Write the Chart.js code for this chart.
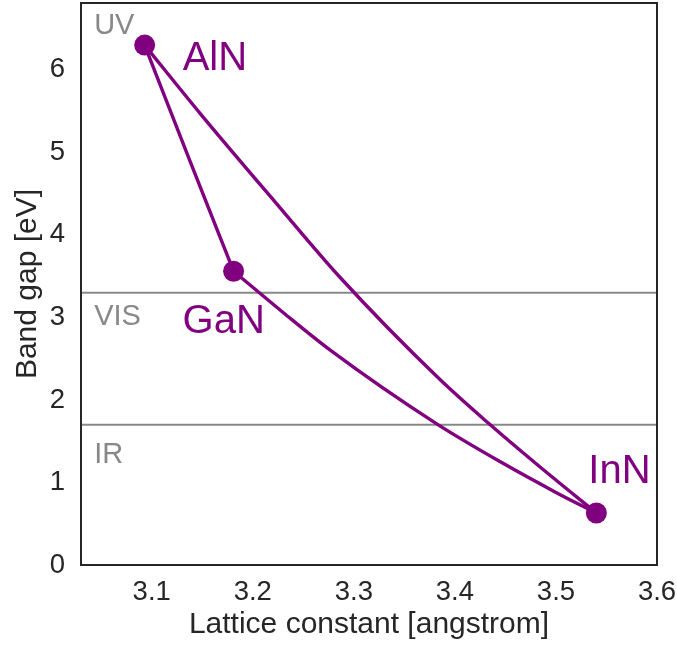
<!DOCTYPE html>
<html>
<head>
<meta charset="utf-8">
<script src="https://cdn.jsdelivr.net/npm/chart.js@4.4.1/dist/chart.umd.min.js"></script>
<style>
  html, body { margin: 0; padding: 0; background: #fff; }
  #wrap { width: 677px; height: 645px; }
</style>
</head>
<body>
<div id="wrap"><canvas id="myChart" width="677" height="645"></canvas></div>
<script>
// binary end points
const compoundNames = ['AlN', 'GaN', 'InN'];
const latticeConst = [3.093, 3.181, 3.540];
const bandGap = [6.30, 3.56, 0.63];

// ternary alloy curves
const alnInnX = [3.093, 3.148, 3.222, 3.286, 3.385, 3.433, 3.484, 3.540];
const alnInnY = [6.30, 5.47, 4.40, 3.49, 2.25, 1.72, 1.19, 0.63];
const alnGanX = [3.093, 3.137, 3.181];
const alnGanY = [6.30, 4.92, 3.56];
const ganInnX = [3.181, 3.230, 3.277, 3.382, 3.445, 3.500, 3.540];
const ganInnY = [3.56, 3.06, 2.60, 1.71, 1.25, 0.88, 0.63];

// spectral regions
const regionNames = ['UV', 'VIS', 'IR'];
const regionBorders = [3.3, 1.7];

const xTicks = [3.1, 3.2, 3.3, 3.4, 3.5, 3.6];
const yTicks = [0, 1, 2, 3, 4, 5, 6];
const xMin = 3.03, xMax = 3.6, yMin = 0, yMax = 6.81;

const purple = '#800080';
const grey = '#888888';
const ink = '#262626';

Chart.defaults.font.family = "'Liberation Sans', Arial, sans-serif";

function toPts(xs, ys) {
  return xs.map((x, i) => ({ x: x, y: ys[i] }));
}

const curveStyle = {
  showLine: true,
  borderColor: purple,
  borderWidth: 3.4,
  pointRadius: 0,
  cubicInterpolationMode: 'monotone',
  order: 2
};

const datasets = [
  { label: 'compounds', data: toPts(latticeConst, bandGap), pointRadius: 10.5, pointBorderWidth: 0,
    backgroundColor: purple, borderColor: purple, showLine: false, order: 0 },
  Object.assign({ label: 'AlInN', data: toPts(alnInnX, alnInnY) }, curveStyle),
  Object.assign({ label: 'AlGaN', data: toPts(alnGanX, alnGanY) }, curveStyle),
  Object.assign({ label: 'InGaN', data: toPts(ganInnX, ganInnY) }, curveStyle)
];
regionBorders.forEach(function (v) {
  datasets.push({ label: 'border ' + v, data: [{ x: xMin, y: v }, { x: xMax, y: v }],
    showLine: true, borderColor: grey, borderWidth: 2, pointRadius: 0, order: 5 });
});

// labels: offsets in px from the dot, region labels in data units
const frameAndLabels = {
  id: 'frameAndLabels',
  afterDatasetsDraw(chart, args, opts) {
    const ctx = chart.ctx;
    const a = chart.chartArea;
    const xs = chart.scales.x, ys = chart.scales.y;
    ctx.save();
    ctx.strokeStyle = ink;
    ctx.lineWidth = 2;
    ctx.strokeRect(a.left, a.top, a.right - a.left, a.bottom - a.top);

    ctx.textAlign = 'left';
    ctx.textBaseline = 'alphabetic';
    ctx.fillStyle = purple;
    ctx.font = "40px 'Liberation Sans', Arial, sans-serif";
    compoundNames.forEach(function (name, i) {
      const off = opts.labelOffsets[i];
      ctx.fillText(name, xs.getPixelForValue(latticeConst[i]) + off[0],
                         ys.getPixelForValue(bandGap[i]) + off[1]);
    });

    ctx.fillStyle = grey;
    ctx.font = "29px 'Liberation Sans', Arial, sans-serif";
    regionNames.forEach(function (name, i) {
      ctx.fillText(name, xs.getPixelForValue(opts.regionX), ys.getPixelForValue(opts.regionY[i]));
    });
    ctx.restore();
  }
};

const myChart = new Chart(document.getElementById('myChart'), {
  type: 'scatter',
  data: { datasets: datasets },
  plugins: [frameAndLabels],
  options: {
    responsive: false,
    animation: false,
    layout: { autoPadding: false, padding: { top: 3, right: 20, left: 0, bottom: 0 } },
    plugins: {
      legend: { display: false },
      tooltip: { enabled: false },
      frameAndLabels: {
        labelOffsets: [[38, 24.5], [-51, 62], [-8, -30]],
        regionX: 3.043,
        regionY: [6.43, 2.91, 1.24]
      }
    },
    scales: {
      x: {
        type: 'linear', min: xMin, max: xMax,
        grid: { display: false, drawTicks: false }, border: { display: false },
        afterBuildTicks: function (s) { s.ticks = xTicks.map(v => ({ value: v })); },
        afterFit: function (s) { s.height = 80; s.paddingLeft = 0; s.paddingRight = 0; },
        ticks: { color: ink, padding: 11, font: { size: 27.5 }, callback: v => v.toFixed(1) },
        title: { display: true, text: 'Lattice constant [angstrom]', color: ink,
                 font: { size: 30 }, padding: { top: 0, bottom: 2 } }
      },
      y: {
        type: 'linear', min: yMin, max: yMax,
        grid: { display: false, drawTicks: false }, border: { display: false },
        afterBuildTicks: function (s) { s.ticks = yTicks.map(v => ({ value: v })); },
        afterFit: function (s) { s.width = 81; s.paddingTop = 0; s.paddingBottom = 0; },
        ticks: { color: ink, padding: 16, font: { size: 27.5 }, callback: v => String(v) },
        title: { display: true, text: 'Band gap [eV]', color: ink,
                 font: { size: 30 }, padding: { top: 10, bottom: 0 } }
      }
    }
  }
});
</script>
</body>
</html>
